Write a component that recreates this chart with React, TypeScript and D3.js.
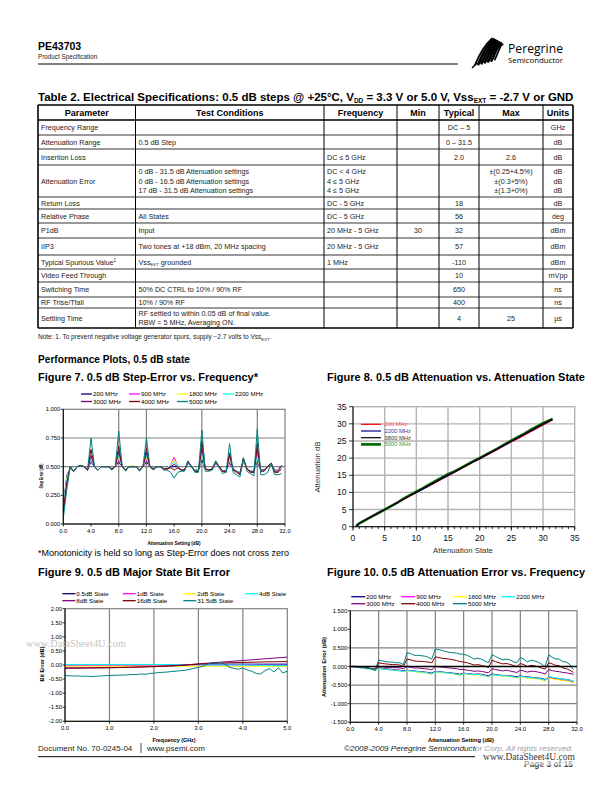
import React, { useLayoutEffect, useRef } from 'react';
import * as d3 from 'd3';

const FONT = "'Liberation Sans', Arial, Helvetica, sans-serif";
const NARROW = "'Liberation Sans Narrow', 'Liberation Sans', Arial, sans-serif";

// ---------- Figure 7 & 10: attenuation states (dB) ----------
const attnStates = d3.range(0, 32, 0.5);
const freqNames = ['200 MHz', '900 MHz', '1800 MHz', '2200 MHz', '3000 MHz', '4000 MHz', '5000 MHz'];
const excelColors = ['#000080', '#FF00FF', '#FFFF00', '#00FFFF', '#800080', '#800000', '#008080'];

// Figure 7 - step error (dB)
const stepErr200 = [0.15,0.42,0.49,0.46,0.50,0.51,0.50,0.47, 0.54,0.50,0.47,0.50,0.50,0.50,0.48,0.50, 0.54,0.50,0.47,0.50,0.50,0.50,0.47,0.50, 0.54,0.50,0.48,0.50,0.50,0.48,0.48,0.50, 0.50,0.50,0.47,0.47,0.53,0.50,0.47,0.47, 0.56,0.48,0.47,0.48,0.53,0.50,0.46,0.47, 0.53,0.48,0.46,0.45,0.55,0.48,0.46,0.46, 0.55,0.47,0.47,0.50,0.53,0.47,0.47,0.51];
const stepErr900 = [0.14,0.40,0.49,0.46,0.50,0.51,0.50,0.47, 0.55,0.50,0.47,0.50,0.50,0.50,0.48,0.50, 0.56,0.50,0.47,0.50,0.50,0.50,0.47,0.50, 0.56,0.50,0.48,0.50,0.50,0.48,0.49,0.52, 0.58,0.51,0.47,0.47,0.54,0.50,0.47,0.46, 0.60,0.48,0.47,0.48,0.53,0.50,0.46,0.46, 0.54,0.48,0.46,0.45,0.55,0.48,0.46,0.46, 0.58,0.47,0.47,0.50,0.53,0.47,0.47,0.51];
const stepErr1800 = [0.13,0.40,0.50,0.46,0.50,0.51,0.50,0.47, 0.57,0.50,0.47,0.50,0.50,0.50,0.48,0.50, 0.58,0.50,0.47,0.50,0.51,0.50,0.47,0.50, 0.58,0.50,0.48,0.50,0.50,0.48,0.49,0.52, 0.56,0.51,0.47,0.47,0.54,0.50,0.47,0.46, 0.60,0.48,0.47,0.48,0.54,0.50,0.46,0.46, 0.56,0.48,0.46,0.45,0.56,0.48,0.46,0.46, 0.58,0.47,0.47,0.50,0.53,0.47,0.47,0.50];
const stepErr2200 = [0.12,0.38,0.50,0.46,0.50,0.51,0.50,0.47, 0.58,0.50,0.47,0.50,0.50,0.50,0.48,0.50, 0.60,0.50,0.47,0.50,0.50,0.50,0.47,0.50, 0.60,0.50,0.48,0.50,0.50,0.48,0.49,0.51, 0.54,0.51,0.47,0.47,0.54,0.50,0.47,0.46, 0.62,0.48,0.47,0.48,0.54,0.50,0.46,0.46, 0.58,0.48,0.46,0.45,0.56,0.48,0.46,0.45, 0.60,0.47,0.47,0.50,0.53,0.47,0.46,0.50];
const stepErr3000 = [0.11,0.36,0.50,0.46,0.50,0.51,0.50,0.47, 0.60,0.50,0.47,0.50,0.50,0.50,0.48,0.50, 0.63,0.50,0.47,0.50,0.50,0.50,0.47,0.50, 0.62,0.50,0.48,0.50,0.50,0.48,0.48,0.50, 0.52,0.50,0.47,0.47,0.54,0.50,0.46,0.46, 0.66,0.48,0.47,0.48,0.54,0.50,0.46,0.46, 0.60,0.48,0.46,0.44,0.57,0.48,0.46,0.45, 0.65,0.47,0.47,0.50,0.53,0.46,0.46,0.51];
const stepErr4000 = [0.10,0.34,0.50,0.46,0.50,0.51,0.50,0.47, 0.65,0.50,0.47,0.50,0.50,0.50,0.48,0.50, 0.68,0.50,0.47,0.50,0.50,0.50,0.47,0.50, 0.66,0.50,0.48,0.50,0.50,0.48,0.48,0.49, 0.47,0.49,0.47,0.47,0.55,0.50,0.46,0.46, 0.72,0.48,0.47,0.48,0.55,0.50,0.46,0.45, 0.62,0.47,0.45,0.43,0.57,0.48,0.45,0.45, 0.70,0.46,0.46,0.50,0.53,0.45,0.45,0.48];
const stepErr5000 = [0.05,0.30,0.50,0.46,0.50,0.51,0.50,0.47, 0.75,0.50,0.47,0.50,0.50,0.50,0.47,0.50, 0.81,0.50,0.46,0.50,0.50,0.50,0.46,0.50, 0.75,0.50,0.47,0.50,0.50,0.47,0.47,0.45, 0.40,0.45,0.46,0.46,0.55,0.50,0.45,0.45, 0.82,0.46,0.46,0.47,0.55,0.49,0.44,0.45, 0.70,0.45,0.43,0.41,0.58,0.46,0.44,0.42, 0.83,0.43,0.43,0.45,0.53,0.43,0.43,0.44];

// Figure 10 - attenuation error (dB)
const attnErr200 = [0.00,-0.01,-0.02,-0.03,-0.04,-0.05,-0.07,-0.09, -0.04,-0.05,-0.06,-0.07,-0.08,-0.09,-0.10,-0.12, -0.10,-0.11,-0.12,-0.13,-0.14,-0.15,-0.16,-0.18, -0.13,-0.14,-0.15,-0.16,-0.17,-0.18,-0.19,-0.21, -0.18,-0.19,-0.20,-0.21,-0.20,-0.21,-0.23,-0.25, -0.20,-0.22,-0.23,-0.24,-0.24,-0.25,-0.26,-0.28, -0.25,-0.27,-0.28,-0.29,-0.30,-0.31,-0.32,-0.35, -0.28,-0.30,-0.32,-0.33,-0.34,-0.35,-0.37,-0.40];
const attnErr900 = [0.00,-0.01,-0.02,-0.03,-0.04,-0.05,-0.07,-0.10, -0.05,-0.06,-0.07,-0.08,-0.09,-0.10,-0.11,-0.13, -0.11,-0.12,-0.13,-0.14,-0.15,-0.16,-0.17,-0.20, -0.14,-0.15,-0.16,-0.17,-0.18,-0.19,-0.21,-0.23, -0.19,-0.20,-0.21,-0.22,-0.21,-0.22,-0.24,-0.27, -0.22,-0.23,-0.24,-0.25,-0.25,-0.26,-0.28,-0.30, -0.27,-0.28,-0.30,-0.31,-0.32,-0.33,-0.35,-0.38, -0.30,-0.32,-0.34,-0.35,-0.37,-0.38,-0.40,-0.43];
const attnErr1800 = [0.00,-0.01,-0.02,-0.03,-0.05,-0.06,-0.08,-0.11, -0.06,-0.07,-0.08,-0.09,-0.10,-0.11,-0.12,-0.14, -0.12,-0.13,-0.14,-0.15,-0.16,-0.17,-0.18,-0.21, -0.15,-0.16,-0.17,-0.18,-0.19,-0.20,-0.22,-0.24, -0.20,-0.21,-0.22,-0.23,-0.22,-0.23,-0.25,-0.28, -0.23,-0.24,-0.25,-0.26,-0.26,-0.27,-0.29,-0.31, -0.28,-0.29,-0.31,-0.32,-0.33,-0.34,-0.36,-0.39, -0.31,-0.33,-0.35,-0.36,-0.38,-0.39,-0.41,-0.44];
const attnErr2200 = [0.00,-0.01,-0.02,-0.04,-0.05,-0.06,-0.08,-0.11, -0.06,-0.07,-0.08,-0.09,-0.10,-0.11,-0.12,-0.14, -0.11,-0.12,-0.13,-0.14,-0.15,-0.16,-0.18,-0.20, -0.14,-0.15,-0.16,-0.17,-0.18,-0.19,-0.21,-0.23, -0.19,-0.20,-0.21,-0.22,-0.21,-0.23,-0.25,-0.28, -0.22,-0.23,-0.24,-0.25,-0.25,-0.26,-0.28,-0.30, -0.26,-0.28,-0.29,-0.30,-0.31,-0.32,-0.34,-0.37, -0.27,-0.29,-0.31,-0.32,-0.34,-0.35,-0.37,-0.39];
const attnErr3000 = [0.00,0.00,-0.01,-0.02,-0.03,-0.04,-0.05,-0.07, 0.00,-0.01,-0.02,-0.02,-0.03,-0.03,-0.04,-0.06, 0.00,-0.02,-0.04,-0.04,-0.05,-0.06,-0.07,-0.09, 0.00,-0.01,-0.02,-0.03,-0.04,-0.05,-0.06,-0.08, -0.08,-0.10,-0.11,-0.13,-0.12,-0.13,-0.15,-0.17, -0.06,-0.08,-0.10,-0.12,-0.10,-0.12,-0.14,-0.16, -0.10,-0.12,-0.15,-0.13,-0.13,-0.15,-0.17,-0.20, -0.08,-0.11,-0.13,-0.14,-0.16,-0.17,-0.19,-0.21];
const attnErr4000 = [0.00,0.00,-0.01,-0.02,-0.03,-0.04,-0.06,-0.08, 0.10,0.08,0.07,0.06,0.05,0.05,0.04,0.00, 0.20,0.18,0.15,0.14,0.14,0.13,0.12,0.10, 0.26,0.24,0.22,0.21,0.20,0.18,0.16,0.13, 0.12,0.10,0.07,0.04,0.05,0.03,0.01,-0.03, 0.17,0.13,0.10,0.07,0.08,0.06,0.03,0.00, 0.08,0.05,0.00,0.03,0.02,-0.01,-0.04,-0.07, 0.10,0.07,0.03,0.02,-0.04,-0.06,-0.10,-0.16];
const attnErr5000 = [0.00,0.01,0.00,-0.02,-0.03,-0.04,-0.06,-0.10, 0.17,0.15,0.13,0.12,0.12,0.10,0.10,0.05, 0.37,0.35,0.30,0.30,0.29,0.28,0.25,0.20, 0.47,0.45,0.43,0.40,0.38,0.37,0.36,0.33, 0.33,0.30,0.25,0.20,0.22,0.20,0.15,0.10, 0.32,0.27,0.22,0.18,0.20,0.18,0.13,0.10, 0.24,0.20,0.12,0.17,0.15,0.12,0.06,0.00, 0.31,0.25,0.20,0.20,0.13,0.12,0.05,-0.08];

// ---------- Figure 8: attenuation vs state ----------
const f8States = [0.5,1,2,3,4,5,6,7,8,9,10,11,12,13,14,15,16,17,18,19,20,21,22,23,24,25,26,27,28,29,30,31,31.5];
const f8Names = ['200 MHz', '2200 MHz', '3800 MHz', '5000 MHz'];
const f8Att200 = [0.2,1.0,2.0,3.0,4.0,5.0,6.0,7.0,7.9,8.9,9.9,10.9,11.8,12.8,13.8,14.8,15.8,16.8,17.8,18.8,19.7,20.7,21.7,22.7,23.7,24.7,25.6,26.6,27.6,28.6,29.6,30.6,31.1];
const f8Att2200 = [0.2,1.0,2.0,3.0,4.0,5.0,6.0,7.0,8.0,9.0,9.9,10.9,11.9,12.9,13.9,14.9,15.9,16.9,17.9,18.9,19.8,20.8,21.8,22.8,23.8,24.8,25.8,26.8,27.8,28.8,29.8,30.7,31.2];
const f8Att3800 = [0.2,1.0,2.0,3.0,4.0,5.0,6.0,7.0,8.1,9.1,10.1,11.1,12.1,13.1,14.1,15.1,16.0,17.0,18.0,19.0,20.0,21.0,22.0,23.0,24.0,25.0,26.0,27.0,28.0,29.0,30.0,30.9,31.4];
const f8Att5000 = [0.2,1.0,2.0,3.0,4.0,5.0,6.0,7.0,8.2,9.2,10.2,11.2,12.3,13.3,14.3,15.3,16.1,17.1,18.1,19.1,20.0,21.0,22.0,23.0,24.1,25.1,26.1,27.1,28.2,29.2,30.2,31.0,31.4];

// ---------- Figure 9: major state bit error vs frequency (GHz) ----------
const f9Names = ['0.5dB State', '1dB State', '2dB State', '4dB State', '8dB State', '16dB State', '31.5dB State'];
const f9FreqCoarse = [0, 0.5, 1, 1.5, 2, 2.5, 3, 3.5, 4, 4.5, 5];
const f9FreqFine = d3.range(0, 5.01, 0.1);
const bitErr05 = [0.01,0.01,0.01,0.01,0.01,0.01,0.02,0.03,0.03,0.03,0.03];
const bitErr1 = [-0.02,-0.02,-0.02,-0.02,-0.01,-0.01,0.00,0.00,0.00,-0.01,-0.02];
const bitErr2 = [-0.04,-0.04,-0.04,-0.04,-0.04,-0.04,-0.04,-0.05,-0.05,-0.05,-0.05];
const bitErr4 = [0.02,0.02,0.02,0.02,0.02,0.01,0.01,0.00,0.00,-0.02,-0.03];
const bitErr8 = [-0.12,-0.11,-0.10,-0.08,-0.05,-0.02,0.04,0.10,0.16,0.22,0.28];
const bitErr16 = [-0.10,-0.10,-0.09,-0.08,-0.06,-0.03,0.03,0.07,0.09,0.11,0.12];
const bitErr315 = [-0.38,-0.38,-0.39,-0.39,-0.40,-0.40,-0.41,-0.40,-0.39,-0.38,-0.37,-0.37,-0.36,-0.36,-0.35,-0.34,-0.34,-0.32,-0.33,-0.30,-0.29,-0.27,-0.26,-0.25,-0.23,-0.22,-0.20,-0.19,-0.15,-0.12,-0.08,-0.05,0.02,0.08,0.05,0.10,0.02,-0.08,-0.12,-0.15,-0.10,-0.18,-0.22,-0.30,-0.32,-0.20,-0.12,-0.25,-0.10,-0.28,-0.22];

// ---------- Table 2 ----------
const tableCols = ['Parameter', 'Test Conditions', 'Frequency', 'Min', 'Typical', 'Max', 'Units'];
type Row = { param: string; sup?: string; cond: string[]; freq: string[]; min: string; typ: string; max: string[]; units: string[] };
const tableRows: Row[] = [
  { param: 'Frequency Range', cond: [], freq: [], min: '', typ: 'DC – 5', max: [], units: ['GHz'] },
  { param: 'Attenuation Range', cond: ['0.5 dB Step'], freq: [], min: '', typ: '0 – 31.5', max: [], units: ['dB'] },
  { param: 'Insertion Loss', cond: [], freq: ['DC  ≤ 5 GHz'], min: '', typ: '2.0', max: ['2.6'], units: ['dB'] },
  { param: 'Attenuation Error', cond: ['0 dB - 31.5 dB Attenuation settings', '0 dB - 16.5 dB Attenuation settings', '17 dB - 31.5 dB Attenuation settings'], freq: ['DC < 4 GHz', '4 ≤ 5 GHz', '4 ≤ 5 GHz'], min: '', typ: '', max: ['±(0.25+4.5%)', '±(0.3+5%)', '±(1.3+0%)'], units: ['dB', 'dB', 'dB'] },
  { param: 'Return Loss', cond: [], freq: ['DC - 5 GHz'], min: '', typ: '18', max: [], units: ['dB'] },
  { param: 'Relative Phase', cond: ['All States'], freq: ['DC - 5 GHz'], min: '', typ: '56', max: [], units: ['deg'] },
  { param: 'P1dB', cond: ['Input'], freq: ['20 MHz - 5 GHz'], min: '30', typ: '32', max: [], units: ['dBm'] },
  { param: 'IIP3', cond: ['Two tones at +18 dBm, 20 MHz spacing'], freq: ['20 MHz - 5 GHz'], min: '', typ: '57', max: [], units: ['dBm'] },
  { param: 'Typical Spurious Value', sup: '1', cond: ['Vss|EXT| grounded'], freq: ['1 MHz'], min: '', typ: '-110', max: [], units: ['dBm'] },
  { param: 'Video Feed Through', cond: [], freq: [], min: '', typ: '10', max: [], units: ['mVpp'] },
  { param: 'Switching Time', cond: ['50% DC CTRL to 10% / 90% RF'], freq: [], min: '', typ: '650', max: [], units: ['ns'] },
  { param: 'RF Trise/Tfall', cond: ['10% / 90% RF'], freq: [], min: '', typ: '400', max: [], units: ['ns'] },
  { param: 'Settling Time', cond: ['RF settled to within 0.05 dB of final value.', 'RBW = 5 MHz, Averaging ON.'], freq: [], min: '', typ: '4', max: ['25'], units: ['µs'] },
];
const colX = [38, 135.5, 324, 397, 439, 479, 543, 573];
const rowY = [105, 120, 135, 149, 165, 197, 209, 223, 238, 255, 269, 282, 297, 308, 328];

// ---------- helpers ----------
type Series = { xs: number[]; ys: number[]; color: string; width?: number };

type PlotProps = {
  l: number; t: number; r: number; b: number;
  xDomain: [number, number]; yDomain: [number, number];
  xTicks: number[]; yTicks: number[];
  xFmt: (v: number) => string; yFmt: (v: number) => string;
  xGrid: number[]; yGrid: number[];
  series: Series[];
  fontSize: number;
  xLabelOffset: number;
  yLabelOffset: number;
  gridColor?: string;
  gridWidth?: number;
  borderColor?: string;
  tickLen?: number;
  xMinor?: number[];
  zero?: boolean;
  labelColor?: string;
};

function ExcelPlot(p: PlotProps) {
  const x = d3.scaleLinear().domain(p.xDomain).range([p.l, p.r]);
  const y = d3.scaleLinear().domain(p.yDomain).range([p.b, p.t]);
  const line = d3.line<[number, number]>().x(d => x(d[0])).y(d => y(d[1]));
  const gc = p.gridColor ?? '#808080';
  const gw = p.gridWidth ?? 1.2;
  const tl = p.tickLen ?? 3;
  const lc = p.labelColor ?? '#000';
  return (
    <g>
      {p.xGrid.map(v => <line key={'gx' + v} x1={x(v)} x2={x(v)} y1={p.t} y2={p.b} stroke={gc} strokeWidth={gw} />)}
      {p.yGrid.map(v => <line key={'gy' + v} x1={p.l} x2={p.r} y1={y(v)} y2={y(v)} stroke={gc} strokeWidth={gw} />)}
      <rect x={p.l} y={p.t} width={p.r - p.l} height={p.b - p.t} fill="none" stroke={p.borderColor ?? gc} strokeWidth={gw} />
      {p.series.map((s, i) => (
        <path key={'s' + i} d={line(s.xs.map((v, j) => [v, s.ys[j]] as [number, number])) || ''}
          fill="none" stroke={s.color} strokeWidth={s.width ?? 1} strokeLinejoin="round" />
      ))}
      {p.zero && <line x1={p.l} x2={p.r} y1={y(0)} y2={y(0)} stroke="#000" strokeWidth={1.4} />}
      <line x1={p.l} x2={p.l} y1={p.t} y2={p.b} stroke="#000" strokeWidth={1} />
      <line x1={p.l} x2={p.r} y1={p.b} y2={p.b} stroke="#000" strokeWidth={1} />
      {p.yTicks.map(v => (
        <g key={'yt' + v}>
          <line x1={p.l - tl} x2={p.l} y1={y(v)} y2={y(v)} stroke="#000" strokeWidth={0.8} />
          <text x={p.l - tl - p.yLabelOffset} y={y(v)} dy="0.35em" textAnchor="end" fontSize={p.fontSize} fill={lc}>{p.yFmt(v)}</text>
        </g>
      ))}
      {(p.xMinor ?? []).map(v => (
        <line key={'xm' + v} x1={x(v)} x2={x(v)} y1={p.b} y2={p.b + tl * 0.6} stroke="#000" strokeWidth={0.8} />
      ))}
      {p.xTicks.map(v => (
        <g key={'xt' + v}>
          <line x1={x(v)} x2={x(v)} y1={p.b} y2={p.b + tl} stroke="#000" strokeWidth={0.8} />
          <text x={x(v)} y={p.b + p.xLabelOffset} dy="0.35em" textAnchor="middle" fontSize={p.fontSize} fill={lc}>{p.xFmt(v)}</text>
        </g>
      ))}
    </g>
  );
}

type LegendItem = { name: string; color: string };
function Legend({ items, cols, rows, len, fontSize }: { items: LegendItem[]; cols: number[]; rows: number[]; len: number; fontSize: number }) {
  return (
    <g>
      {items.map((it, i) => {
        const cx = cols[i % cols.length];
        const cy = rows[Math.floor(i / cols.length)];
        return (
          <g key={it.name}>
            <line x1={cx} x2={cx + len} y1={cy} y2={cy} stroke={it.color} strokeWidth={1.3} />
            <text x={cx + len + 1} y={cy} dy="0.35em" fontSize={fontSize}>{it.name}</text>
          </g>
        );
      })}
    </g>
  );
}

function CellText({ x, y0, y1, lines, anchor, fontSize }: { x: number; y0: number; y1: number; lines: string[]; anchor: 'start' | 'middle'; fontSize: number }) {
  const mid = (y0 + y1) / 2;
  const lh = lines.length > 2 ? 9.5 : 9;
  return (
    <g>
      {lines.map((ln, i) => {
        const yy = mid - ((lines.length - 1) * lh) / 2 + i * lh + fontSize * 0.35;
        const parts = ln.split('|');
        return (
          <text key={i} x={x} y={yy} textAnchor={anchor} fontSize={fontSize} fill="#222">
            {parts.map((pt, k) => k % 2 === 1
              ? <tspan key={k} fontSize={fontSize * 0.6} dy={1.5}>{pt}</tspan>
              : <tspan key={k} dy={k > 0 ? -1.5 : 0}>{pt}</tspan>)}
          </text>
        );
      })}
    </g>
  );
}

function SpecTable() {
  const fs = 7.2;
  return (
    <g>
      {tableCols.map((c, i) => (
        <text key={c} x={(colX[i] + colX[i + 1]) / 2} y={116} textAnchor="middle" fontFamily={NARROW}
          fontWeight="bold" fontSize={9}>{c}</text>
      ))}
      {tableRows.map((r, i) => {
        const y0 = rowY[i + 1];
        const y1 = rowY[i + 2];
        const mid = (y0 + y1) / 2;
        return (
          <g key={r.param}>
            <text x={colX[0] + 3} y={mid + fs * 0.35} fontSize={fs} fill="#222">
              {r.param}{r.sup && <tspan fontSize={4.5} dy={-3}>{r.sup}</tspan>}
            </text>
            <CellText x={colX[1] + 3} y0={y0} y1={y1} lines={r.cond} anchor="start" fontSize={fs} />
            <CellText x={colX[2] + 3} y0={y0} y1={y1} lines={r.freq} anchor="start" fontSize={fs} />
            <CellText x={(colX[3] + colX[4]) / 2} y0={y0} y1={y1} lines={r.min ? [r.min] : []} anchor="middle" fontSize={fs} />
            <CellText x={(colX[4] + colX[5]) / 2} y0={y0} y1={y1} lines={r.typ ? [r.typ] : []} anchor="middle" fontSize={fs} />
            <CellText x={(colX[5] + colX[6]) / 2} y0={y0} y1={y1} lines={r.max} anchor="middle" fontSize={fs} />
            <CellText x={(colX[6] + colX[7]) / 2} y0={y0} y1={y1} lines={r.units} anchor="middle" fontSize={fs} />
          </g>
        );
      })}
      {rowY.map((yy, i) => (
        <line key={'h' + i} x1={colX[0]} x2={colX[7]} y1={yy} y2={yy} stroke="#000"
          strokeWidth={i === 0 || i === rowY.length - 1 ? 1.6 : i === 1 ? 1.3 : 0.8} />
      ))}
      {colX.map((xx, i) => (
        <line key={'v' + i} x1={xx} x2={xx} y1={rowY[0]} y2={rowY[rowY.length - 1]} stroke="#000"
          strokeWidth={i === 0 || i === colX.length - 1 ? 1.6 : 1} />
      ))}
    </g>
  );
}

function Logo() {
  const strokes = d3.range(7);
  return (
    <g>
      {strokes.map(i => (
        <path key={i}
          d={`M ${475 + i * 3.3} ${65 - i * 0.9} C ${479 + i * 3.3} ${55 - i * 0.6} ${485 + i * 2.6} ${45 - i * 0.2} ${492 + i * 1.8} ${38.5 + i * 1}`}
          fill="none" stroke="#000" strokeWidth={i === 0 || i === 6 ? 1.8 : 2.8} strokeLinecap="round" />
      ))}
      <path d="M 472 68 L 477 63" stroke="#000" strokeWidth={1.4} />
      <text x={508} y={52.5} fontFamily="'Open Sans', 'Noto Sans', sans-serif" fontSize={12.5} textLength={55} lengthAdjust="spacingAndGlyphs">Peregrine</text>
      <text x={508} y={62.7} fontFamily="'Open Sans', 'Noto Sans', sans-serif" fontSize={7.6} textLength={55} lengthAdjust="spacingAndGlyphs">Semiconductor</text>
    </g>
  );
}

function TableTitle() {
  const ref = useRef<SVGTextElement>(null);
  useLayoutEffect(() => {
    const el = ref.current;
    if (!el) return;
    const w = el.getComputedTextLength();
    if (w > 0) d3.select(el).attr('font-size', (12 * 535) / w);
  }, []);
  return (
    <text ref={ref} x={38} y={101} fontFamily={NARROW} fontWeight="bold" fontSize={12}>
      Table 2. Electrical Specifications: 0.5 dB steps @ +25°C, V<tspan fontSize={6.5} dy={2}>DD</tspan><tspan dy={-2}> = 3.3 V or 5.0 V, Vss</tspan><tspan fontSize={6.5} dy={2}>EXT</tspan><tspan dy={-2}> = -2.7 V or GND</tspan>
    </text>
  );
}

const f3 = (v: number) => v.toFixed(3);
const f2 = (v: number) => v.toFixed(2);
const f1 = (v: number) => v.toFixed(1);

export default function App() {
  const fig7Series: Series[] = [stepErr200, stepErr900, stepErr1800, stepErr2200, stepErr3000, stepErr4000, stepErr5000]
    .map((ys, i) => ({ xs: attnStates, ys, color: excelColors[i] }));
  const fig10Series: Series[] = [attnErr200, attnErr900, attnErr1800, attnErr2200, attnErr3000, attnErr4000, attnErr5000]
    .map((ys, i) => ({ xs: attnStates, ys, color: excelColors[i] }));
  const fig9Series: Series[] = [bitErr05, bitErr1, bitErr2, bitErr4, bitErr8, bitErr16]
    .map((ys, i) => ({ xs: f9FreqCoarse, ys, color: excelColors[i] }))
    .concat([{ xs: f9FreqFine, ys: bitErr315, color: excelColors[6] }]);
  const f8Colors = ['#FF0000', '#000080', '#000000', '#006400'];
  const fig8Series: Series[] = [
    { xs: f8States, ys: f8Att5000, color: f8Colors[3], width: 2.6 },
    { xs: f8States, ys: f8Att200, color: f8Colors[0] },
    { xs: f8States, ys: f8Att2200, color: f8Colors[1] },
    { xs: f8States, ys: f8Att3800, color: f8Colors[2] },
  ];
  const f8TextColors = ['#ff5555', '#3a3aa8', '#333333', '#3a9a3a'];

  return (
    <svg width={612} height={792} viewBox="0 0 612 792" fontFamily={FONT}
      style={{ position: 'absolute', left: 0, top: 0, background: '#fff' }}>
      <rect width={612} height={792} fill="#fff" />

      {/* header */}
      <text x={38} y={49.5} fontWeight="bold" fontSize={10.5}>PE43703</text>
      <text x={38} y={59} fontSize={6.3} fill="#222">Product Specification</text>
      <line x1={38} x2={458} y1={64} y2={64} stroke="#000" strokeWidth={1} />
      <Logo />

      {/* table */}
      <TableTitle />
      <SpecTable />
      <text x={38} y={339} fontSize={6.5} fill="#222">
        Note: 1. To prevent negative voltage generator spurs, supply −2.7 volts to Vss<tspan fontSize={4.2} dy={1.5}>EXT</tspan><tspan dy={-1.5}>.</tspan>
      </text>

      <text x={38} y={363} fontWeight="bold" fontSize={10.5} textLength={152} lengthAdjust="spacingAndGlyphs">Performance Plots, 0.5 dB state</text>

      {/* Figure 7 */}
      <text x={38} y={380.5} fontWeight="bold" fontSize={10.5} textLength={220} lengthAdjust="spacingAndGlyphs">Figure 7. 0.5 dB Step-Error vs. Frequency*</text>
      <Legend items={freqNames.map((n, i) => ({ name: n, color: excelColors[i] }))}
        cols={[81, 129, 177, 223]} rows={[394, 401.5]} len={11} fontSize={6.2} />
      <ExcelPlot l={63.3} t={409.3} r={285} b={524} xDomain={[0, 32]} yDomain={[0, 1]}
        xTicks={d3.range(0, 33, 4)} yTicks={[0, 0.25, 0.5, 0.75, 1]} xFmt={f1} yFmt={f3}
        xGrid={[8, 12, 20, 28]} yGrid={[0.5, 0.75]} series={fig7Series} fontSize={5.8}
        xLabelOffset={6.7} yLabelOffset={0.5} tickLen={2.5} />
      <text x={174} y={544.5} textAnchor="middle" fontWeight="bold" fontSize={5.2} textLength={53} lengthAdjust="spacingAndGlyphs">Attenuation Setting (dB)</text>
      <text transform="translate(43,476) rotate(-90)" textAnchor="middle" fontWeight="bold" fontSize={5} textLength={25} lengthAdjust="spacingAndGlyphs">Step Error (dB)</text>
      <text x={38} y={556} fontSize={8.6} textLength={251} lengthAdjust="spacingAndGlyphs">*Monotonicity is held so long as Step-Error does not cross zero</text>

      {/* Figure 8 */}
      <text x={327} y={380.5} fontWeight="bold" fontSize={10.5} textLength={258} lengthAdjust="spacingAndGlyphs">Figure 8. 0.5 dB Attenuation vs. Attenuation State</text>
      <ExcelPlot l={353} t={406.7} r={574.7} b={526.7} xDomain={[0, 35]} yDomain={[0, 35]}
        xTicks={d3.range(0, 36, 5)} yTicks={d3.range(0, 36, 5)} xFmt={v => String(v)} yFmt={v => String(v)}
        xGrid={d3.range(5, 35, 5)} yGrid={d3.range(5, 35, 5)} series={fig8Series} fontSize={8.6}
        xLabelOffset={11.5} yLabelOffset={2.5} gridColor="#b4b4b4" gridWidth={1.4} borderColor="#b4b4b4"
        tickLen={4} xMinor={d3.range(0, 36, 1)} labelColor="#111" />
      <text x={463} y={553} textAnchor="middle" fontSize={7.8} fill="#333">Attenuation State</text>
      <text transform="translate(320,467) rotate(-90)" textAnchor="middle" fontSize={7.8} fill="#333">Attenuation dB</text>
      {f8Names.map((n, i) => (
        <g key={n}>
          <line x1={361} x2={381} y1={424.3 + i * 6.7} y2={424.3 + i * 6.7} stroke={f8Colors[i]} strokeWidth={i === 3 ? 2.6 : 1.2} />
          <text x={384.5} y={424.3 + i * 6.7} dy="0.35em" fontSize={5.8} fill={f8TextColors[i]}>{n}</text>
        </g>
      ))}

      {/* Figure 9 */}
      <text x={38} y={575.5} fontWeight="bold" fontSize={10.5} textLength={192} lengthAdjust="spacingAndGlyphs">Figure 9. 0.5 dB Major State Bit Error</text>
      <Legend items={f9Names.map((n, i) => ({ name: n, color: excelColors[i] }))}
        cols={[62.3, 122.7, 183.3, 245]} rows={[593.7, 600.7]} len={13} fontSize={6.2} />
      <ExcelPlot l={65} t={608.7} r={287.3} b={721.3} xDomain={[0, 5]} yDomain={[-2, 2]}
        xTicks={d3.range(0, 5.01, 1)} yTicks={d3.range(-2, 2.01, 0.5)} xFmt={f1} yFmt={f2}
        xGrid={[1, 2, 3, 4]} yGrid={[]} series={fig9Series} fontSize={5.8}
        xLabelOffset={6.4} yLabelOffset={0.5} tickLen={2.5} />
      <text x={26} y={647} fontFamily="'Liberation Serif', serif" fontSize={10} fill="#c4c4c4" textLength={100} lengthAdjust="spacingAndGlyphs">www.DataSheet4U.com</text>
      <text x={174} y={741.5} textAnchor="middle" fontWeight="bold" fontSize={5.2} textLength={43} lengthAdjust="spacingAndGlyphs">Frequency (GHz)</text>
      <text transform="translate(44,664) rotate(-90)" textAnchor="middle" fontWeight="bold" fontSize={5.2} textLength={35} lengthAdjust="spacingAndGlyphs">Bit Error (dB)</text>

      {/* Figure 10 */}
      <text x={327} y={575.5} fontWeight="bold" fontSize={10.5} textLength={258} lengthAdjust="spacingAndGlyphs">Figure 10. 0.5 dB Attenuation Error vs. Frequency</text>
      <Legend items={freqNames.map((n, i) => ({ name: n, color: excelColors[i] }))}
        cols={[351.3, 401.3, 453, 501.3]} rows={[596.7, 603.7]} len={14} fontSize={6.2} />
      <ExcelPlot l={350.3} t={610.7} r={577} b={722.3} xDomain={[0, 32]} yDomain={[-1.5, 1.5]}
        xTicks={d3.range(0, 33, 4)} yTicks={d3.range(-1.5, 1.51, 0.5)} xFmt={f1} yFmt={f3}
        xGrid={d3.range(4, 32, 4)} yGrid={[0.5, -0.5, -1]} series={fig10Series} fontSize={5.8}
        xLabelOffset={7} yLabelOffset={0.5} tickLen={2.5} zero />
      <text x={461} y={741.5} textAnchor="middle" fontWeight="bold" fontSize={5.6} textLength={66} lengthAdjust="spacingAndGlyphs">Attenuation Setting (dB)</text>
      <text transform="translate(326,667) rotate(-90)" textAnchor="middle" fontWeight="bold" fontSize={5.4} textLength={60} lengthAdjust="spacingAndGlyphs">Attenuation Error (dB)</text>

      {/* footer */}
      <text x={38} y={751} fontSize={8} fill="#222">Document No. 70-0245-04</text>
      <line x1={141} x2={141} y1={743} y2={753} stroke="#222" strokeWidth={0.8} />
      <text x={147} y={751} fontSize={8} fill="#222">www.psemi.com</text>
      <line x1={38} x2={475} y1={756.7} y2={756.7} stroke="#000" strokeWidth={1} />
      <text x={344} y={751} fontSize={7.8} fontStyle="italic" fill="#222" textLength={229} lengthAdjust="spacingAndGlyphs">©2008-2009 Peregrine Semiconductor Corp.  All rights reserved.</text>
      <text x={573} y={767} textAnchor="end" fontSize={8.4} fontWeight="bold" fill="#444">Page  3 of 15</text>
      <rect x={476} y={743} width={100} height={22} fill="#fff" opacity={0.55} />
      <text x={483} y={760} fontFamily="'Liberation Serif', serif" fontSize={11} fill="#3a3a3a" textLength={92} lengthAdjust="spacingAndGlyphs">www.DataSheet4U.com</text>
    </svg>
  );
}
